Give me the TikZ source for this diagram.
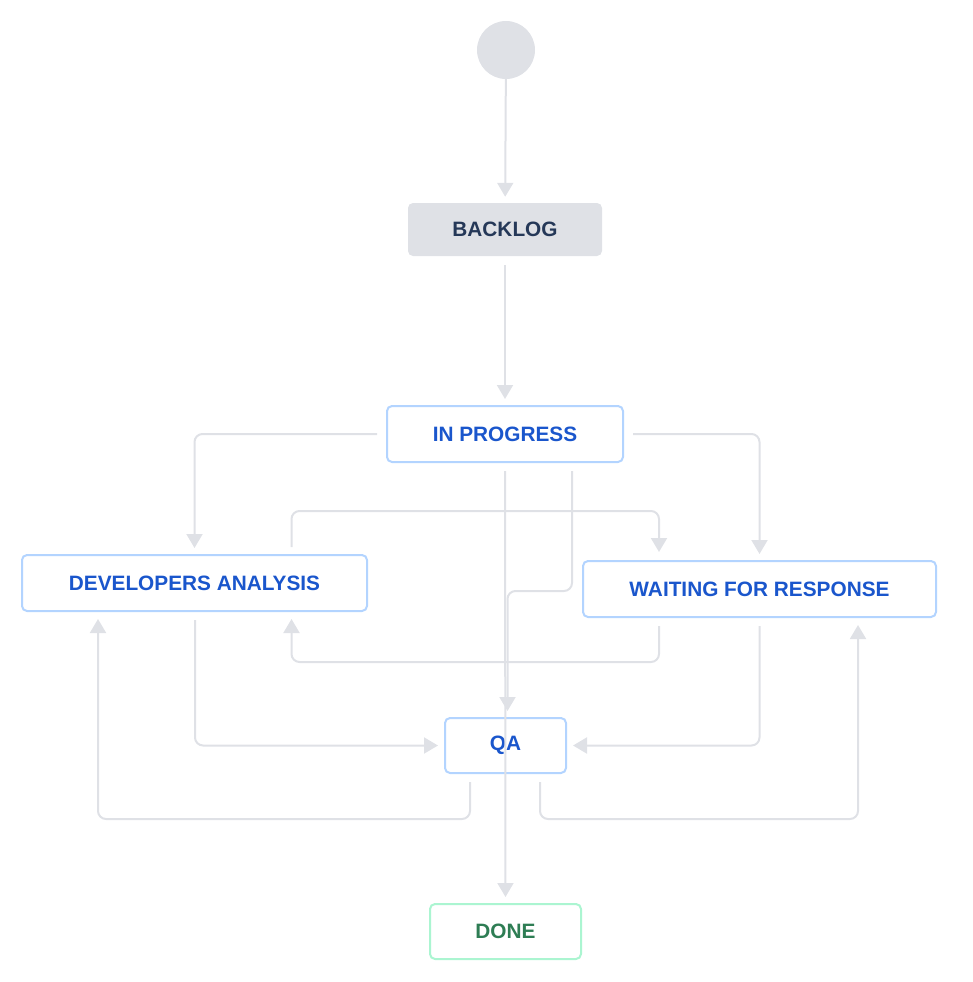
\documentclass[tikz,border=0pt]{standalone}
\usepackage{fontspec}
\setmainfont{Liberation Sans}
\usetikzlibrary{arrows.meta,calc}

\definecolor{linegray}{HTML}{DFE1E6}
\definecolor{todotext}{HTML}{253858}
\definecolor{blueborder}{HTML}{B3D4FF}
\definecolor{bluetext}{HTML}{1A56CC}
\definecolor{greenborder}{HTML}{ABF5D1}
\definecolor{greentext}{HTML}{2E7D54}

\tikzset{
  status/.style={rounded corners=5pt, minimum height=56pt, inner sep=0pt,
    font=\fontsize{20.8}{24}\selectfont\bfseries},
  todo/.style={status, fill=linegray, text=todotext, minimum height=53pt},
  active/.style={status, draw=blueborder, line width=2pt, fill=white, text=bluetext},
  finished/.style={status, draw=greenborder, line width=2pt, fill=white, text=greentext, minimum height=55pt},
  flow/.style={draw=linegray, line width=2pt, rounded corners=8pt,
    -{Triangle[width=16pt,length=14pt]}, shorten <=8pt, shorten >=6pt}
}

\begin{document}
\begin{tikzpicture}[x=1pt, y=-1pt]
  \useasboundingbox (0,0) rectangle (972,982);

  % statuses
  \node[circle, fill=linegray, minimum size=58pt, inner sep=0pt] (start) at (506,50) {};
  \node[todo, minimum width=194pt] (backlog) at (505,229.5) {BACKLOG};
  \node[active, minimum width=236pt] (inprog) at (505,434) {IN PROGRESS};
  \node[active, minimum width=345pt] (devan) at (194.5,583) {DEVELOPERS ANALYSIS};
  \node[active, minimum width=353pt] (wait) at (759.5,589) {WAITING FOR RESPONSE};
  \node[active, minimum width=121pt, minimum height=55pt] (qa) at (505.5,745.5) {QA};
  \node[finished, minimum width=151pt] (done) at (505.5,931.5) {DONE};

  % transitions
  \draw[flow, shorten <=0pt] (start) -- (backlog);
  \draw[flow, shorten <=9pt] (backlog) -- (inprog);
  \draw[flow, shorten <=9pt] (inprog.west) -| (devan.north);
  \draw[flow, shorten <=9pt] (inprog.east) -| (wait.north);
  \draw[flow, shorten <=7pt, shorten >=8pt] ($(devan.north)+(97,0)$) -- ++(0,-43) -| ($(wait.north)+(-100.5,0)$);
  \draw[flow, shorten >=7pt] ($(wait.south)+(-100.5,0)$) -- ++(0,44) -| ($(devan.south)+(97,0)$);
  \draw[flow] ($(inprog.south)+(67,0)$) -- ++(0,128) -| ($(qa.north)+(2,0)$);
  \draw[flow] ($(devan.south)+(0.5,0)$) |- (qa.west);
  \draw[flow] (wait.south) |- (qa.east);
  \draw[flow, shorten >=7pt] ($(qa.south)+(-35.5,0)$) -- ++(0,45) -| ($(devan.south)+(-96.5,0)$);
  \draw[flow, shorten >=7pt] ($(qa.south)+(34.5,0)$) -- ++(0,45) -| ($(wait.south)+(98.5,0)$);
  \draw[flow] (inprog.south) -- (done.north);
\end{tikzpicture}
\end{document}
